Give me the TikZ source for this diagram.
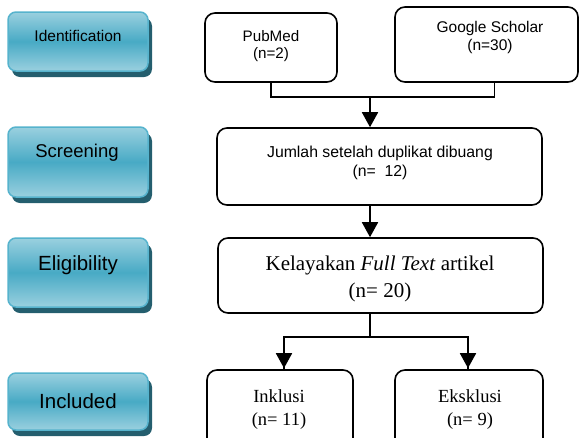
\documentclass[tikz,border=0pt]{standalone}
\usepackage{fontspec}
\setmainfont{Liberation Serif}
\newfontfamily\arialf{Liberation Sans}
\usetikzlibrary{arrows.meta,shadows,calc}
\definecolor{bluetop}{RGB}{154,208,223}
\definecolor{bluemid}{RGB}{72,170,197}
\definecolor{blueedge}{RGB}{86,179,205}
\definecolor{blueshadow}{RGB}{36,94,110}
\begin{document}
\begin{tikzpicture}[x=1pt,y=-1pt,
  bluebox/.style={draw=blueedge, line width=1.5pt, rounded corners=8pt,
    top color=bluetop, bottom color=bluetop, middle color=bluemid,
    minimum width=140pt, inner sep=0pt,
    drop shadow={shadow xshift=4pt, shadow yshift=-6pt, fill=blueshadow, opacity=1}},
  rbox/.style={draw=black, line width=1.6pt, rounded corners=10pt, fill=white, inner sep=0pt},
  sanstext/.style={font=\arialf\fontsize{#1}{#1}\selectfont, align=center, inner sep=0pt},
  seriftext/.style={font=\fontsize{#1}{#1}\selectfont, align=center, inner sep=0pt},
  conn/.style={line width=1.4pt},
  arr/.style={line width=1.8pt, -{Triangle[width=16pt,length=15pt]}},
]
\useasboundingbox (0,0) rectangle (579,437);
\clip (0,0) rectangle (579,437);

% left stage boxes
\node[bluebox, minimum height=59pt] (idb) at (78,41.5) {};
\node[bluebox, minimum height=70pt] (scb) at (78,162) {};
\node[bluebox, minimum height=69pt] (elb) at (78,272.5) {};
\node[bluebox, minimum height=57pt] (inb) at (78,401.5) {};
\node[sanstext=15.5] (idt) at (78,36) {Identification};
\node[sanstext=18.5] (sct) at (77,153) {Screening};
\node[sanstext=20.5] (elt) at (78,265) {Eligibility};
\node[sanstext=20.5] (int) at (78,401) {Included};

% right boxes
\node[rbox, minimum width=132pt, minimum height=69pt] (pub) at (271,47.5) {};
\node[rbox, minimum width=183pt, minimum height=75pt] (gs) at (486.5,44.5) {};
\node[rbox, minimum width=325pt, minimum height=77pt] (scr) at (379.5,166.5) {};
\node[rbox, minimum width=325pt, minimum height=75pt] (elig) at (380.5,275.5) {};
\node[rbox, minimum width=146pt, minimum height=90pt] (inkl) at (280,415) {};
\node[rbox, minimum width=148pt, minimum height=90pt] (eks) at (469,415) {};

\node[sanstext=15.2] (pubt) at (271,46) {PubMed\\[1pt](n=2)};
\node[sanstext=15.5] (gst) at (490,37.5) {Google Scholar\\[3pt](n=30)};
\node[sanstext=15.8] (scrt) at (380,163) {Jumlah setelah duplikat dibuang\\[3pt](n=\ \ 12)};
\node[seriftext=21] (eligt) at (380,279) {Kelayakan \textit{Full Text} artikel\\[6pt](n= 20)};
\node[seriftext=18.5] (inklt) at (279,410) {Inklusi\\[4.5pt](n= 11)};
\node[seriftext=18.5] (ekst) at (470,410) {Eksklusi\\[4.5pt](n= 9)};

% connectors
\coordinate (j1) at (370,97);
\coordinate (j2) at (370,337);
\draw[conn] (pub.south) |- (j1) -| ([xshift=8pt]gs.south);
\draw[arr] (j1) -- (j1 |- scr.north);
\draw[arr] (scr.south -| j1) -- (elig.north -| j1);
\draw[conn] (elig.south -| j2) -- (j2);
\draw[conn] (j2) -| ([xshift=4pt]inkl.north);
\draw[conn] (j2) -| ([xshift=-1pt]eks.north);
\draw[arr] ([xshift=4pt]inkl.north |- j2) -- ([xshift=4pt,yshift=1pt]inkl.north);
\draw[arr] ([xshift=-1pt]eks.north |- j2) -- ([xshift=-1pt,yshift=1pt]eks.north);
\end{tikzpicture}
\end{document}
